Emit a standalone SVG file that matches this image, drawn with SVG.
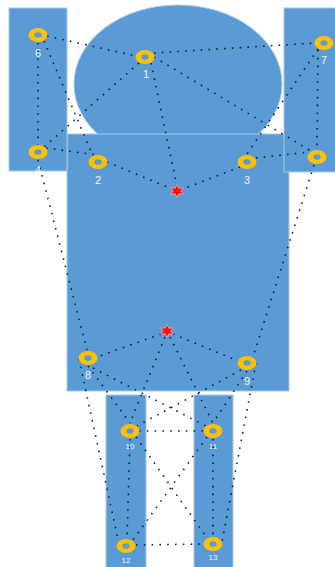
<svg xmlns="http://www.w3.org/2000/svg" xmlns:xlink="http://www.w3.org/1999/xlink" width="335" height="567" viewBox="0 0 335 567">
<style>
.body{fill:#5B9BD5;stroke:#A8C8EA;stroke-width:1}
.c{stroke:#1C2233;stroke-width:1.6;stroke-dasharray:1.6 6.2;fill:none}
.lbl{font-family:"Liberation Sans","DejaVu Sans",sans-serif;font-size:11px;fill:#EEF4FB;text-anchor:middle}
.sm{font-size:8px}
.ring{fill:#FFC000;fill-rule:evenodd}
.star{fill:#FF1010;stroke:#F7A6A6;stroke-width:0.8}
</style>
<defs>
<path id="ring" class="ring" d="M-9.5,0a9.5,7 0 1,0 19,0a9.5,7 0 1,0 -19,0Z M-3.7,0a3.7,2.7 0 1,0 7.4,0a3.7,2.7 0 1,0 -7.4,0Z"/>
<path id="star" class="star" d="M0,-7L1.8,-3.1L6.1,-3.5L3.6,0L6.1,3.5L1.8,3.1L0,7L-1.8,3.1L-6.1,3.5L-3.6,0L-6.1,-3.5L-1.8,-3.1Z" transform="scale(1.05,0.9)"/>
</defs>
<rect width="335" height="567" fill="#FFFFFF"/>
<g id="body">
<ellipse id="head" class="body" cx="178" cy="84" rx="104" ry="79"/>
<rect id="torso" class="body" x="67" y="134" width="222" height="257"/>
<rect id="left-arm" class="body" x="9" y="8" width="58" height="163"/>
<rect id="right-arm" class="body" x="284" y="8" width="52" height="164"/>
<rect id="left-leg" class="body" x="106" y="395" width="40" height="175"/>
<rect id="right-leg" class="body" x="194" y="395" width="39" height="175"/>
</g>
<g id="connectors">
<line class="c" x1="47" y1="36" x2="136" y2="56"/>
<line class="c" x1="154" y1="53" x2="315" y2="43"/>
<line class="c" x1="38" y1="43" x2="38" y2="145"/>
<line class="c" x1="318" y1="50" x2="317" y2="150"/>
<line class="c" x1="139" y1="63" x2="44" y2="147"/>
<line class="c" x1="44" y1="41" x2="93" y2="156"/>
<line class="c" x1="46" y1="148" x2="97" y2="155"/>
<line class="c" x1="107" y1="162" x2="172" y2="189"/>
<line class="c" x1="151" y1="63" x2="177" y2="186"/>
<line class="c" x1="240" y1="167" x2="183" y2="189"/>
<line class="c" x1="154" y1="57" x2="311" y2="151"/>
<line class="c" x1="318" y1="49" x2="247" y2="154"/>
<line class="c" x1="256" y1="158" x2="309" y2="152"/>
<line class="c" x1="38" y1="160" x2="87" y2="350"/>
<line class="c" x1="314" y1="165" x2="253" y2="357"/>
<line class="c" x1="161" y1="334" x2="97" y2="357"/>
<line class="c" x1="173" y1="334" x2="238" y2="361"/>
<line class="c" x1="165" y1="337" x2="130" y2="423"/>
<line class="c" x1="170" y1="337" x2="213" y2="423"/>
<line class="c" x1="79" y1="359" x2="119" y2="544"/>
<line class="c" x1="256" y1="363" x2="222" y2="542"/>
<line class="c" x1="88" y1="366" x2="130" y2="423"/>
<line class="c" x1="247" y1="371" x2="213" y2="423"/>
<line class="c" x1="93" y1="368" x2="206" y2="426"/>
<line class="c" x1="241" y1="370" x2="137" y2="426"/>
<line class="c" x1="139" y1="431" x2="204" y2="431"/>
<line class="c" x1="136" y1="545" x2="204" y2="544"/>
<line class="c" x1="130" y1="439" x2="127" y2="538"/>
<line class="c" x1="213" y1="439" x2="213" y2="536"/>
<line class="c" x1="136" y1="437" x2="207" y2="538"/>
<line class="c" x1="207" y1="437" x2="133" y2="540"/>
</g>
<g id="star-top"><use xlink:href="#star" x="177" y="191"/></g>
<g id="star-bottom"><use xlink:href="#star" x="167" y="331"/></g>
<g id="n1"><use xlink:href="#ring" x="145" y="57"/><text class="lbl" x="146" y="78">1</text></g>
<g id="n2"><use xlink:href="#ring" x="98" y="162"/><text class="lbl" x="98" y="184">2</text></g>
<g id="n3"><use xlink:href="#ring" x="247" y="162"/><text class="lbl" x="247" y="184">3</text></g>
<g id="n4"><use xlink:href="#ring" x="38" y="152"/><text class="lbl" x="38" y="174">4</text></g>
<g id="n5"><use xlink:href="#ring" x="317" y="157"/></g>
<g id="n6"><use xlink:href="#ring" x="38" y="35"/><text class="lbl" x="38" y="57">6</text></g>
<g id="n7"><use xlink:href="#ring" x="324" y="43"/><text class="lbl" x="324" y="64">7</text></g>
<g id="n8"><use xlink:href="#ring" x="88" y="358"/><text class="lbl" x="88" y="379">8</text></g>
<g id="n9"><use xlink:href="#ring" x="247" y="363"/><text class="lbl" x="247" y="385">9</text></g>
<g id="n10"><use xlink:href="#ring" x="130" y="431"/><text class="lbl sm" x="130" y="449">10</text></g>
<g id="n11"><use xlink:href="#ring" x="213" y="431"/><text class="lbl sm" x="213" y="449">11</text></g>
<g id="n12"><use xlink:href="#ring" x="126" y="546"/><text class="lbl sm" x="126" y="563">12</text></g>
<g id="n13"><use xlink:href="#ring" x="213" y="544"/><text class="lbl sm" x="213" y="560">13</text></g>
</svg>
